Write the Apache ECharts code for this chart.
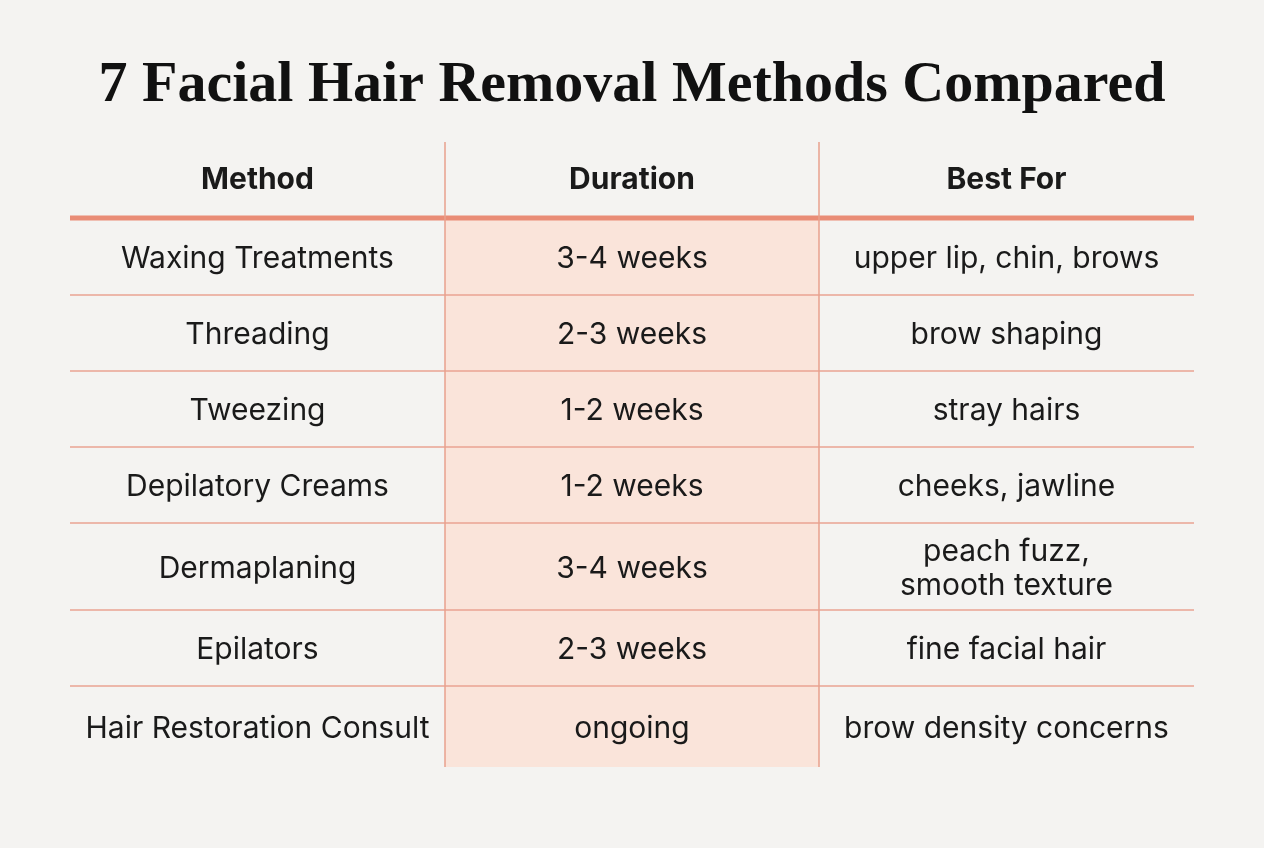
<!DOCTYPE html>
<html><head><meta charset="utf-8">
<script src="https://cdn.jsdelivr.net/npm/echarts@6/dist/echarts.min.js"></script>
<style>html,body{margin:0;background:#f4f3f1}#c{width:1264px;height:848px}</style>
</head><body><div id="c"></div>
<script>
const title = "7 Facial Hair Removal Methods Compared";
const headers = ["Method", "Duration", "Best For"];
const methods = ["Waxing Treatments","Threading","Tweezing","Depilatory Creams","Dermaplaning","Epilators","Hair Restoration Consult"];
const durations = ["3-4 weeks","2-3 weeks","1-2 weeks","1-2 weeks","3-4 weeks","2-3 weeks","ongoing"];
const bestFor = ["upper lip, chin, brows","brow shaping","stray hairs","cheeks, jawline","peach fuzz,\nsmooth texture","fine facial hair","brow density concerns"];
const rowEdges = [0,76,153,229,305,381,468,544,625];
const colEdges = [0,375,749,1124];

const cols = [methods, durations, bestFor];
const cells = [];
for (let c = 0; c < 3; c++) {
  cells.push([c, 0, headers[c]]);
  for (let r = 0; r < methods.length; r++) cells.push([c, r + 1, cols[c][r]]);
}
const chart = echarts.init(document.getElementById('c'));
chart.setOption({
  backgroundColor: '#f4f3f1',
  title: { text: title, left: 'center', top: 52,
    textStyle: { fontFamily: 'Liberation Serif', fontWeight: 'bold', fontSize: 58, color: '#111' } },
  grid: { left: 70, right: 70, top: 142, bottom: 81 },
  xAxis: { type: 'value', min: 0, max: 1124, show: false },
  yAxis: { type: 'value', min: 0, max: 625, inverse: true, show: false },
  series: [
    { type: 'custom', data: cells, z: 1,
      renderItem(params, api) {
        const c = api.value(0), r = api.value(1), t = cells[params.dataIndex][2];
        const p0 = api.coord([colEdges[c], rowEdges[r]]);
        const p1 = api.coord([colEdges[c + 1], rowEdges[r + 1]]);
        const children = [];
        if (c === 1 && r > 0) children.push({ type: 'rect', shape: { x: p0[0], y: p0[1], width: p1[0] - p0[0], height: p1[1] - p0[1] }, style: { fill: '#fae4da' } });
        children.push({ type: 'text', z2: 10, style: { text: t, x: (p0[0] + p1[0]) / 2, y: (p0[1] + p1[1]) / 2 + (r === 0 ? 0 : 2),
          align: 'center', verticalAlign: 'middle', lineHeight: 34,
          font: (r === 0 ? 'bold ' : '') + '30px Inter, "Noto Sans", sans-serif', fill: '#1a1a1a' } });
        return { type: 'group', children };
      } },
    { type: 'custom', data: [[0]], z: 5,
      renderItem(params, api) {
        const ch = [];
        for (let i = 1; i < rowEdges.length - 1; i++) {
          const a = api.coord([0, rowEdges[i]]), b = api.coord([1124, rowEdges[i]]);
          ch.push({ type: 'line', shape: { x1: a[0], y1: a[1], x2: b[0], y2: b[1] },
            style: { stroke: i === 1 ? '#e98c76' : '#eaa392', lineWidth: i === 1 ? 5 : 1.5 } });
        }
        for (let j = 1; j < colEdges.length - 1; j++) {
          const a = api.coord([colEdges[j], 0]), b = api.coord([colEdges[j], 625]);
          ch.push({ type: 'line', shape: { x1: a[0], y1: a[1], x2: b[0], y2: b[1] }, style: { stroke: '#e9a08c', lineWidth: 1.5 } });
        }
        return { type: 'group', children: ch };
      } }
  ]
});
</script></body></html>
